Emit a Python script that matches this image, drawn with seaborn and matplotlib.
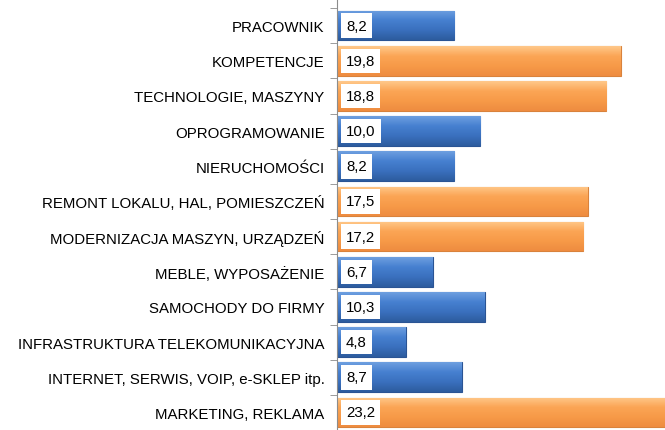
import matplotlib.pyplot as plt
import seaborn as sns
import pandas as pd
import numpy as np
from matplotlib.colors import LinearSegmentedColormap

categories = [
    "PRACOWNIK",
    "KOMPETENCJE",
    "TECHNOLOGIE, MASZYNY",
    "OPROGRAMOWANIE",
    "NIERUCHOMOŚCI",
    "REMONT LOKALU, HAL, POMIESZCZEŃ",
    "MODERNIZACJA MASZYN, URZĄDZEŃ",
    "MEBLE, WYPOSAŻENIE",
    "SAMOCHODY DO FIRMY",
    "INFRASTRUKTURA TELEKOMUNIKACYJNA",
    "INTERNET, SERWIS, VOIP, e-SKLEP itp.",
    "MARKETING, REKLAMA",
]
values = [8.2, 19.8, 18.8, 10.0, 8.2, 17.5, 17.2, 6.7, 10.3, 4.8, 8.7, 23.2]
groups = ["blue", "orange", "orange", "blue", "blue", "orange",
          "orange", "blue", "blue", "blue", "blue", "orange"]

df = pd.DataFrame({"category": categories, "value": values, "group": groups})

main = {"blue": "#3B73C4", "orange": "#F79A48"}
grad = {
    "blue": ["#6E9FE0", "#4680D0", "#3A70BE", "#2D5C9E"],
    "orange": ["#FFC88A", "#FBA555", "#F79A48", "#EE8C40"],
}
edge = {"blue": "#2A5494", "orange": "#D9823C"}

plt.rcParams["font.family"] = ["Liberation Sans", "DejaVu Sans"]

fig = plt.figure(figsize=(6.65, 4.31), dpi=100)
ax = fig.add_axes([337 / 665, 0, 1 - 337 / 665, 1])

sns.barplot(data=df, y="category", x="value", hue="group", palette=main,
            dodge=False, width=0.84, legend=False, ax=ax)

# gradient fill clipped to each bar
bars = [p for p in ax.patches if p.get_width() > 0]
bars.sort(key=lambda p: p.get_y())
for p, g in zip(bars, groups):
    p.set_edgecolor(edge[g])
    p.set_linewidth(0.8)
    cmap = LinearSegmentedColormap.from_list(g, grad[g])
    x0, y0, w, h = p.get_x(), p.get_y(), p.get_width(), p.get_height()
    img = ax.imshow(np.linspace(0, 1, 64).reshape(-1, 1), cmap=cmap,
                    extent=[x0, x0 + w, y0 + h, y0], aspect="auto",
                    origin="upper", zorder=p.get_zorder() + 0.1)
    img.set_clip_path(p)

for i, v in enumerate(values):
    ax.text(0.62, i, f"{v:.1f}".replace(".", ","), va="center", ha="left",
            fontsize=10.8, color="black", zorder=10,
            bbox=dict(boxstyle="square,pad=0.35", fc="white", ec="none"))

ax.set_xlim(0, 22.9)
ax.set_ylim(11.32, -0.756)
ax.set_xlabel("")
ax.set_ylabel("")
ax.xaxis.set_visible(False)
for s in ["top", "right", "bottom"]:
    ax.spines[s].set_visible(False)
ax.spines["left"].set_color("#8C8C8C")
ax.set_yticks(range(len(categories)))
ax.set_yticklabels(categories, fontsize=10.8)
ax.set_yticks(np.arange(-0.5, len(categories), 1), minor=True)
ax.tick_params(axis="y", which="major", length=0, pad=9)
ax.tick_params(axis="y", which="minor", length=5, color="#8C8C8C")

fig.savefig("out.png", dpi=100)
